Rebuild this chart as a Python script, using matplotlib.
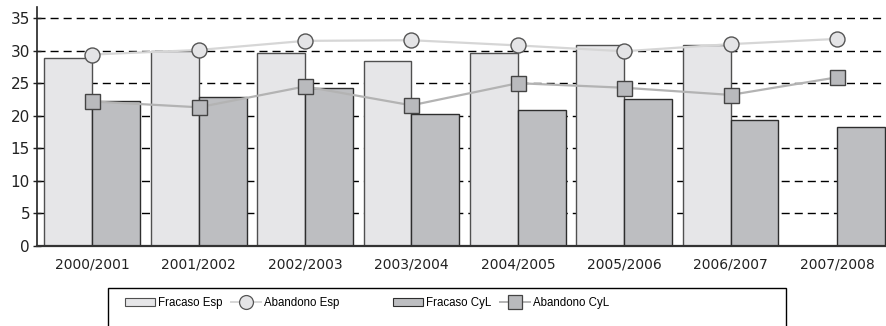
import matplotlib
matplotlib.use("Agg")
import matplotlib.pyplot as plt
import numpy as np
from matplotlib.patches import Rectangle
from matplotlib.lines import Line2D

# Course years
cursos = ["2000/2001", "2001/2002", "2002/2003", "2003/2004",
          "2004/2005", "2005/2006", "2006/2007", "2007/2008"]

# Percentages
fracaso_esp = [28.9, 29.9, 29.6, 28.4, 29.6, 30.8, 30.8, np.nan]
fracaso_cyl = [22.3, 22.9, 24.3, 20.2, 20.9, 22.6, 19.3, 18.3]
abandono_esp = [29.4, 30.1, 31.5, 31.6, 30.8, 29.9, 31.0, 31.8]
abandono_cyl = [22.2, 21.3, 24.5, 21.6, 25.0, 24.3, 23.2, 25.9]

yticks = [0, 5, 10, 15, 20, 25, 30, 35]

W, H = 887, 326
fig = plt.figure(figsize=(W / 100, H / 100), dpi=100)
ax = fig.add_axes([37 / W, 80 / H, (W - 37) / W, 239 / H])

x = np.arange(len(cursos))
bw = 0.45

# dashed horizontal guides behind the bars
for yv in yticks[1:]:
    ax.axhline(yv, color="black", lw=1.0, ls=(0, (5.8, 3.6)), zorder=0)

ax.bar(x - bw / 2, fracaso_esp, width=bw, color="#e6e6e8",
       edgecolor="#505050", linewidth=1.0, zorder=2)
ax.bar(x + bw / 2, fracaso_cyl, width=bw, color="#bdbec1",
       edgecolor="#2e2e2e", linewidth=1.0, zorder=2)

ax.plot(x, abandono_esp, color="#d6d6d6", lw=1.6, zorder=3,
        marker="o", ms=10.8, mfc="#e4e4e6", mec="#555555", mew=1.0)
ax.plot(x, abandono_cyl, color="#b3b3b3", lw=1.6, zorder=3,
        marker="s", ms=10.8, mfc="#b9babd", mec="#444444", mew=1.0)

ax.set_xlim(-0.52, 7.47)
ax.set_ylim(0, 36.7)
ax.set_yticks(yticks)
ax.set_xticks(x)
ax.set_xticklabels(cursos)

for s in ("top", "right"):
    ax.spines[s].set_visible(False)
ax.spines["left"].set_color("#222222")
ax.spines["left"].set_linewidth(1.2)
ax.spines["bottom"].set_color("#333333")
ax.spines["bottom"].set_linewidth(1.6)
ax.spines["bottom"].set_zorder(4)

ax.tick_params(axis="y", direction="inout", length=6, width=1.0,
               labelsize=11, colors="#222222", pad=2)
ax.tick_params(axis="x", length=0, labelsize=10, colors="#222222", pad=8)

# legend frame (runs off the bottom edge)
fig.patches.append(Rectangle((108 / W, -0.2), (786 - 108) / W, 0.2 + (326 - 288) / H,
                             transform=fig.transFigure, fill=False,
                             edgecolor="black", linewidth=1.0))

leg_font = {"family": "Liberation Sans", "size": 8.3}

h_fe = Rectangle((0, 0), 1, 1, facecolor="#e6e6e8", edgecolor="#505050", linewidth=0.8)
h_ae = Line2D([], [], color="#d6d6d6", lw=1.4, marker="o", ms=10,
              mfc="#e4e4e6", mec="#555555", mew=0.9)
h_fc = Rectangle((0, 0), 1, 1, facecolor="#bdbec1", edgecolor="#2e2e2e", linewidth=0.8)
h_ac = Line2D([], [], color="#b3b3b3", lw=1.4, marker="s", ms=10,
              mfc="#b9babd", mec="#444444", mew=0.9)

common = dict(frameon=False, ncol=2, prop=leg_font, handlelength=2.6,
              handletextpad=0.3, columnspacing=0.7, borderpad=0,
              borderaxespad=0, loc="center left")
fig.legend([h_fe, h_ae], ["Fracaso Esp", "Abandono Esp"],
           bbox_to_anchor=(125 / W, 1 - 303 / H), **common)
fig.legend([h_fc, h_ac], ["Fracaso CyL", "Abandono CyL"],
           bbox_to_anchor=(393 / W, 1 - 303 / H), **common)

fig.savefig("out.png", dpi=100)
